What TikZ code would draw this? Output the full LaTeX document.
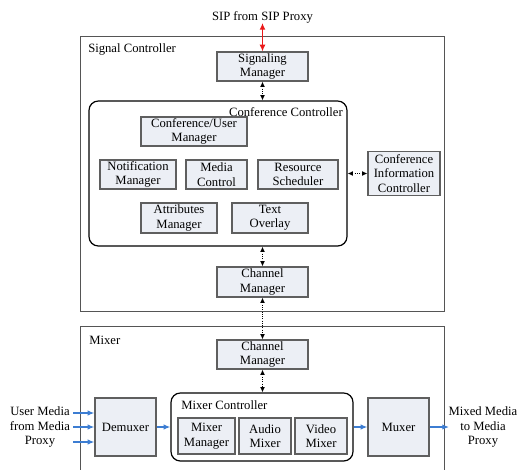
\documentclass[tikz,border=0pt]{standalone}
\usepackage{fontspec}
\setmainfont{Liberation Serif}
\usetikzlibrary{arrows.meta, positioning}
\definecolor{boxfill}{RGB}{236,239,245}
\definecolor{boxline}{RGB}{95,95,95}
\definecolor{frameline}{RGB}{85,85,85}
\definecolor{mediablue}{RGB}{60,125,210}
\definecolor{sipred}{RGB}{235,25,25}

\tikzset{
  blk/.style 2 args={draw=boxline, fill=boxfill, line width=0.9pt, align=center, inner sep=0pt,
    minimum width=#1*0.75pt, minimum height=#2*0.75pt},
  grp/.style 2 args={draw=black, line width=0.9pt, rounded corners=7pt, inner sep=0pt,
    minimum width=#1*0.75pt, minimum height=#2*0.75pt},
  frame/.style={draw=frameline, line width=0.7pt},
  lbl/.style={inner sep=0pt, align=center},
  ctl/.style={densely dotted, line width=0.7pt, {Latex[length=4pt,width=3.6pt]}-{Latex[length=4pt,width=3.6pt]}},
  media/.style={draw=mediablue, line width=0.9pt, -{Latex[length=5pt,width=4pt]}},
  sip/.style={draw=sipred, line width=1.1pt, {Latex[length=5pt,width=4.5pt]}-{Latex[length=5pt,width=4.5pt]}},
}

\begin{document}
\begin{tikzpicture}[x=0.75pt, y=-0.75pt, font=\fontsize{9.5}{10.8}\selectfont]
    \useasboundingbox (0,0) rectangle (518,469);

    % Signal Controller
    \draw[frame] (80,36) rectangle (444,311);
    \node[lbl, anchor=west] (sigl) at (88,49) {Signal Controller};
    \node[lbl] (sipt) at (262.5,17) {SIP from SIP Proxy};
    \coordinate (sipend) at (262.5,23);
    \node[blk={91}{29}] (sigm) at (262.5,66.5) {Signaling\\Manager};

    \node[grp={258}{145}] (confc) at (218,173.5) {};
    \node[lbl, anchor=east] (confl) at (343,112) {Conference Controller};
    \node[blk={106}{29}] (cum) at (194,131.5) {Conference/User\\Manager};
    \node[blk={76}{29}] (notm) at (138,174.5) {Notification\\Manager};
    \node[blk={61}{29}] (medc) at (216.5,174.5) {Media\\Control};
    \node[blk={80}{29}] (ress) at (298,174.5) {Resource\\Scheduler};
    \node[blk={76}{30}] (attm) at (179,218) {Attributes\\Manager};
    \node[blk={76}{30}] (txto) at (270,218) {Text\\Overlay};
    \node[blk={72}{44}] (cic) at (404,173.5) {Conference\\Information\\Controller};
    \node[blk={91}{30}] (chms) at (262.5,282) {Channel\\Manager};

    % Mixer
    \draw[frame] (80,475) |- (444,326) -- (444,475);
    \node[lbl, anchor=west] (mixl) at (89,340) {Mixer};
    \node[blk={91}{29}] (chmm) at (262.5,354.5) {Channel\\Manager};
    \node[grp={182}{68}] (mixc) at (262,427) {};
    \node[lbl, anchor=west] (mixcl) at (181,405) {Mixer Controller};
    \node[blk={57}{36}] (mixm) at (206.5,436) {Mixer\\Manager};
    \node[blk={52}{36}] (audm) at (265,436) {Audio\\Mixer};
    \node[blk={52}{36}] (vidm) at (321,436) {Video\\Mixer};
    \node[blk={61}{58}] (demux) at (125.5,427) {Demuxer};
    \node[blk={61}{58}] (muxer) at (398.5,427) {Muxer};

    \node[lbl] (inl) at (40,427) {User Media\\from Media\\Proxy};
    \node[lbl] (outl) at (483,427) {Mixed Media\\to Media\\Proxy};
    \coordinate (in1) at (73,413);
    \coordinate (in2) at (73,427);
    \coordinate (in3) at (73,442);
    \coordinate (outend) at (449,427);

    \draw[sip] (sipend) -- (sigm.north);
    \draw[ctl] (sigm.south) -- (sigm.south |- confc.north);
    \draw[ctl] (sigm.south |- confc.south) -- (chms.north);
    \draw[ctl] (confc.east) -- (cic.west);
    \draw[ctl] (chms.south) -- (chmm.north);
    \draw[ctl] (chmm.south) -- (chmm.south |- mixc.north);

    \foreach \p in {in1, in2, in3}
        \draw[media] (\p) -- (\p -| demux.west);
    \draw[media] (demux.east) -- (mixc.west);
    \draw[media] (mixc.east) -- (muxer.west);
    \draw[media] (muxer.east) -- (outend);
\end{tikzpicture}
\end{document}
